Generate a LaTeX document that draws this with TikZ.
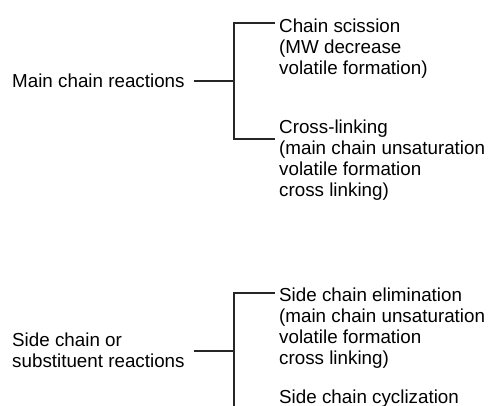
\documentclass[tikz,border=0pt]{standalone}
\usepackage{fontspec}
\setmainfont{Liberation Sans}
\begin{document}
\begin{tikzpicture}[x=1pt,y=-1pt,
  lbl/.style={inner sep=0pt,anchor=base west,align=left,font=\fontsize{18.8}{21}\selectfont},
  conn/.style={line width=1.3pt,draw=black!85}]
\useasboundingbox (0,0) rectangle (488,405);
% main chain (base anchor = baseline of last line)
\node[lbl] (main) at (12,87) {Main chain reactions};
\node[lbl] (cs) at (279,74) {Chain scission\\(MW decrease\\volatile formation)};
\node[lbl] (cl) at (279,196) {Cross-linking\\(main chain unsaturation\\volatile formation\\cross linking)};
\coordinate (j1) at (234,81);
\coordinate (cst) at (275,23);
\coordinate (clt) at (275,139);
\draw[conn] ([xshift=9pt]main.east |- j1) -- (j1);
\draw[conn] (cst) -- (cst -| j1) -- (clt -| j1) -- (clt);
% side chain
\node[lbl] (side) at (12,367) {Side chain or\\substituent reactions};
\node[lbl] (sce) at (279,364) {Side chain elimination\\(main chain unsaturation\\volatile formation\\cross linking)};
\node[lbl] (scc) at (279,403) {Side chain cyclization};
\coordinate (j2) at (234,351);
\coordinate (scet) at (275,293);
\coordinate (bot) at (234,410);
\draw[conn] ([xshift=9pt]side.east |- j2) -- (j2);
\draw[conn] (scet) -- (scet -| j2) -- (bot);
\end{tikzpicture}
\end{document}
